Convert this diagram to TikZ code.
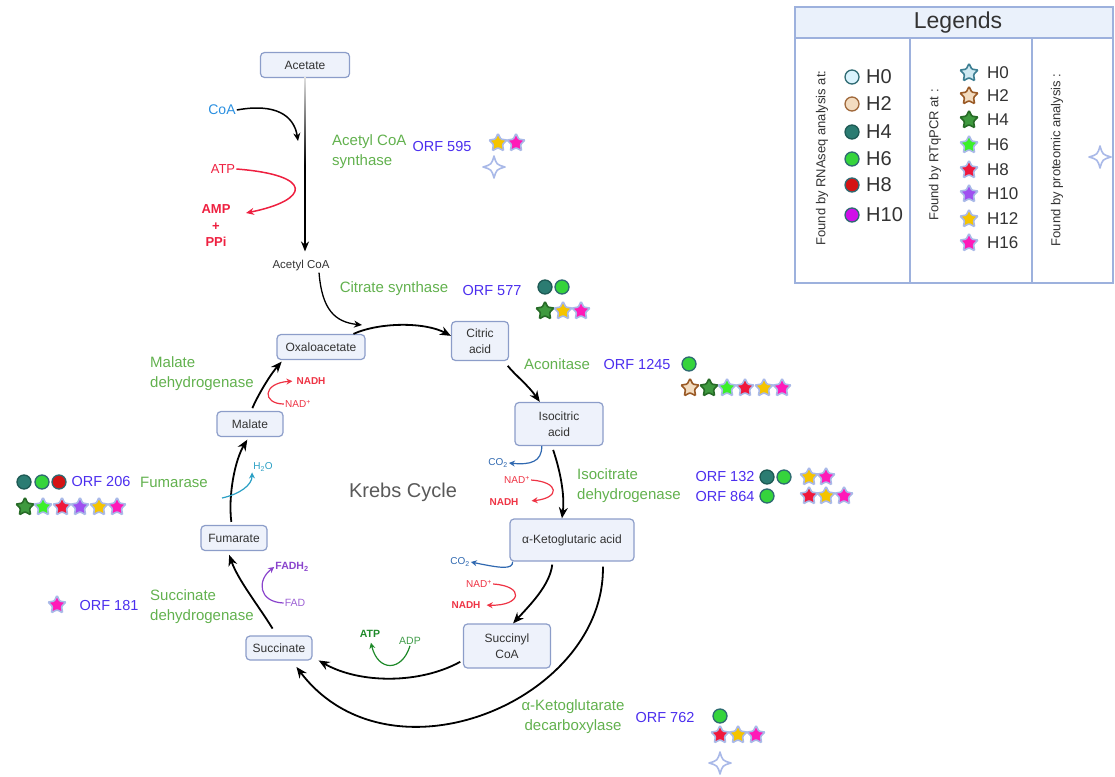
\documentclass[tikz,border=0pt]{standalone}
\usepackage{fontspec}
\setmainfont{Liberation Sans}
\usetikzlibrary{shapes.geometric,arrows.meta}

\definecolor{boxfill}{HTML}{EEF2FB}
\definecolor{boxline}{HTML}{8C9DC9}
\definecolor{boxtext}{HTML}{333333}
\definecolor{enzgreen}{HTML}{62B14E}
\definecolor{orfblue}{HTML}{4B2EEE}
\definecolor{coablue}{HTML}{2A8FE0}
\definecolor{atpred}{HTML}{EE2040}
\definecolor{nadred}{HTML}{EE3344}
\definecolor{fadpurple}{HTML}{8A44CC}
\definecolor{waterblue}{HTML}{2A9FC4}
\definecolor{co2blue}{HTML}{2F68B0}
\definecolor{atpgreen}{HTML}{1F8A2A}
\definecolor{legline}{HTML}{9DB1DD}
\definecolor{legfill}{HTML}{EAF1FB}
\definecolor{glow}{HTML}{A9B9E8}
\definecolor{dotline}{HTML}{2E6A72}

\tikzstyle{metab} = [
rectangle,
rounded corners=4pt,
draw=boxline,
fill=boxfill,
line width=1.2pt,
text=boxtext,
font=\fontsize{12}{16}\selectfont,
align=center,
inner sep=0pt
]
\tikzstyle{enzyme} = [font=\fontsize{15}{20}\selectfont, text=enzgreen, inner sep=1pt]
\tikzstyle{orf} = [font=\fontsize{14.5}{20}\selectfont, text=orfblue, inner sep=1pt]
\tikzstyle{cofactor} = [font=\fontsize{10}{12}\selectfont, inner sep=1pt]
\tikzstyle{arrow} = [
line width=1.8pt,
->,
>={Stealth[length=11pt,width=9pt]}
]
\tikzstyle{thinarrow} = [
line width=1.2pt,
->,
>={Stealth[length=6pt,width=6pt]}
]
\tikzstyle{legline} = [draw=legline, line width=1.5pt]
\tikzstyle{sparkline} = [draw=glow, fill=white, line width=1.6pt, line join=round]

% RNAseq dots
\tikzstyle{dot} = [circle, minimum size=14pt, inner sep=0pt, line width=1.3pt, draw=dotline]
\tikzstyle{dot0} = [dot, fill=white!85!cyan]
\tikzstyle{dot2} = [dot, fill={rgb,255:red,243;green,220;blue,192}, draw={rgb,255:red,160;green,104;blue,58}]
\tikzstyle{dot4} = [dot, fill={rgb,255:red,43;green,124;blue,114}, draw={rgb,255:red,30;green,90;blue,85}]
\tikzstyle{dot6} = [dot, fill={rgb,255:red,53;green,212;blue,60}]
\tikzstyle{dot8} = [dot, fill={rgb,255:red,212;green,20;blue,20}]
\tikzstyle{dot10} = [dot, fill={rgb,255:red,208;green,16;blue,232}]

% RTqPCR stars
\tikzstyle{hstar} = [star, star points=5, star point ratio=2.0, minimum size=19pt, inner sep=0pt, line width=1.6pt, rounded corners=1pt, draw=glow]
\tikzstyle{star0} = [hstar, fill={rgb,255:red,207;green,233;blue,242}, draw={rgb,255:red,61;green,127;blue,147}]
\tikzstyle{star2} = [hstar, fill={rgb,255:red,243;green,220;blue,192}, draw={rgb,255:red,154;green,90;blue,38}]
\tikzstyle{star4} = [hstar, fill={rgb,255:red,63;green,154;blue,63}, draw={rgb,255:red,39;green,107;blue,39}]
\tikzstyle{star6} = [hstar, fill={rgb,255:red,60;green,240;blue,42}]
\tikzstyle{star8} = [hstar, fill={rgb,255:red,240;green,24;blue,60}]
\tikzstyle{star10} = [hstar, fill={rgb,255:red,160;green,80;blue,240}]
\tikzstyle{star12} = [hstar, fill={rgb,255:red,245;green,196;blue,0}]
\tikzstyle{star16} = [hstar, fill={rgb,255:red,255;green,26;blue,184}]

% proteomic mark
\newcommand{\sparkle}[2]{%
\draw[sparkline] (#1,#2-11) .. controls (#1+2.5,#2-2.5) .. (#1+11,#2)
  .. controls (#1+2.5,#2+2.5) .. (#1,#2+11)
  .. controls (#1-2.5,#2+2.5) .. (#1-11,#2)
  .. controls (#1-2.5,#2-2.5) .. cycle;}

\begin{document}
\begin{tikzpicture}[x=1pt, y=-1pt]
\useasboundingbox (0,0) rectangle (1115,776);

% Legend
\draw[legline, fill=white] (795,7) rectangle (1113,283);
\draw[legline, fill=legfill] (795,7) rectangle (1113,38);
\draw[legline] (910,38) -- (910,283);
\draw[legline] (1032,38) -- (1032,283);
\node[font=\fontsize{23}{26}\selectfont, text=boxtext] (legtitle) at (958,23) {Legends};
\node[font=\fontsize{13}{15}\selectfont, text=boxtext, rotate=90] (rnacol) at (822,158) {Found by RNAseq analysis at:};
\node[font=\fontsize{13}{15}\selectfont, text=boxtext, rotate=90] (pcrcol) at (935,155) {Found by RTqPCR at :};
\node[font=\fontsize{13}{15}\selectfont, text=boxtext, rotate=90] (protcol) at (1057,160) {Found by proteomic analysis :};
\foreach \h/\y in {0/77, 2/104, 4/132, 6/159, 8/185, 10/215} {
  \node[dot\h] (ldot\h) at (852,\y) {};
  \node[font=\fontsize{20}{22}\selectfont, text=boxtext, anchor=west, inner sep=0pt] (ldtxt\h) at (866,\y) {H\h};
}
\foreach \h/\y in {0/73, 2/96, 4/120, 6/145, 8/170, 10/194, 12/219, 16/243} {
  \node[star\h] (lstar\h) at (969,\y) {};
  \node[font=\fontsize{17}{20}\selectfont, text=boxtext, anchor=west, inner sep=0pt] (lstxt\h) at (987,\y) {H\h};
}
\sparkle{1100}{157}

% Metabolites
\node (acetate) [metab, minimum width=89pt, minimum height=25pt] at (305,65) {Acetate};
\node (acetylcoa) [font=\fontsize{11.5}{14}\selectfont, text=boxtext, inner sep=1pt] at (301,266) {Acetyl CoA};
\node (oxal) [metab, minimum width=88pt, minimum height=25pt] at (321,347) {Oxaloacetate};
\node (citric) [metab, minimum width=57pt, minimum height=39pt] at (480,341) {Citric\\acid};
\node (isocit) [metab, minimum width=88pt, minimum height=43pt] at (559,424) {Isocitric\\acid};
\node (akg) [metab, minimum width=124pt, minimum height=42pt] at (572,540) {α-Ketoglutaric acid};
\node (succoa) [metab, minimum width=87pt, minimum height=44pt] at (507,646) {Succinyl\\CoA};
\node (succ) [metab, minimum width=66pt, minimum height=24pt] at (279,648) {Succinate};
\node (fum) [metab, minimum width=66pt, minimum height=25pt] at (234,538) {Fumarate};
\node (malate) [metab, minimum width=66pt, minimum height=25pt] at (250,424) {Malate};
\node (krebs) [font=\fontsize{20}{24}\selectfont, text=black!65] at (403,492) {Krebs Cycle};

% Cofactors
\node (coa) [font=\fontsize{14}{16}\selectfont, text=coablue, inner sep=1pt] at (222,110) {CoA};
\node (atp) [font=\fontsize{13}{16}\selectfont, text=atpred, inner sep=1pt] at (223,169) {ATP};
\node (amp) [font=\bfseries\fontsize{13}{16.5}\selectfont, text=atpred, align=center, inner sep=1pt] at (216,226) {AMP\\+\\PPi};
\coordinate (atpend) at (246,213);
\coordinate (coaend) at (298,141);
\coordinate (csend) at (362,325);
\node (co2a) [cofactor, text=co2blue] at (498,463) {CO\textsubscript{2}};
\node (nad1) [cofactor, text=nadred] at (517,480) {NAD\textsuperscript{+}};
\node (nadh1) [cofactor, text=nadred, font=\bfseries\fontsize{10}{12}\selectfont] at (504,502) {NADH};
\node (co2b) [cofactor, text=co2blue] at (460,562) {CO\textsubscript{2}};
\node (nad2) [cofactor, text=nadred] at (479,584) {NAD\textsuperscript{+}};
\node (nadh2) [cofactor, text=nadred, font=\bfseries\fontsize{10}{12}\selectfont] at (466,605) {NADH};
\node (atpg) [cofactor, text=atpgreen, font=\bfseries\fontsize{10.5}{12}\selectfont] at (370,634) {ATP};
\node (adp) [cofactor, text=atpgreen!85!white, font=\fontsize{10.5}{12}\selectfont] at (410,641) {ADP};
\node (fadh) [cofactor, text=fadpurple, font=\bfseries\fontsize{10.5}{12}\selectfont] at (292,567) {FADH\textsubscript{2}};
\node (fad) [cofactor, text=fadpurple!85!white, font=\fontsize{10.5}{12}\selectfont] at (295,603) {FAD};
\node (h2o) [cofactor, text=waterblue] at (263,467) {H\textsubscript{2}O};
\coordinate (h2ostart) at (222,498);
\node (nadh3) [cofactor, text=nadred, font=\bfseries\fontsize{10}{12}\selectfont] at (311,381) {NADH};
\node (nad3) [cofactor, text=nadred] at (298,404) {NAD\textsuperscript{+}};

% Enzymes and ORFs
\node (acsyn) [enzyme, align=left, anchor=west] at (331,152) {Acetyl CoA\\synthase};
\node (orf595) [orf] at (442,147) {ORF 595};
\node (csyn) [enzyme] at (394,289) {Citrate synthase};
\node (orf577) [orf] at (492,291) {ORF 577};
\node (acon) [enzyme] at (557,364) {Aconitase};
\node (orf1245) [orf] at (637,365) {ORF 1245};
\node (idh) [enzyme, align=left, anchor=west] at (576,486) {Isocitrate\\dehydrogenase};
\node (orf132) [orf] at (725,477) {ORF 132};
\node (orf864) [orf] at (725,497) {ORF 864};
\node (akgdc) [enzyme, align=center] at (573,717) {α-Ketoglutarate\\decarboxylase};
\node (orf762) [orf] at (665,717) {ORF 762};
\node (sdh) [enzyme, align=left, anchor=west] at (149,607) {Succinate\\dehydrogenase};
\node (orf181) [orf] at (109,605) {ORF 181};
\node (fumase) [enzyme] at (174,482) {Fumarase};
\node (orf206) [orf] at (101,482) {ORF 206};
\node (mdh) [enzyme, align=left, anchor=west] at (149,374) {Malate\\dehydrogenase};

% Marks
\node (s595a) [star12] at (498,143) {};
\node (s595b) [star16] at (516,143) {};
\sparkle{494}{167}
\node (d577a) [dot4] at (545,287) {};
\node (d577b) [dot6] at (562,287) {};
\node (s577a) [star4] at (545,311) {};
\node (s577b) [star12] at (563,311) {};
\node (s577c) [star16] at (581,311) {};
\node (d1245) [dot6] at (689,364) {};
\node (s1245a) [star2] at (690,388) {};
\node (s1245b) [star4] at (709,388) {};
\node (s1245c) [star6] at (727,388) {};
\node (s1245d) [star8] at (745,388) {};
\node (s1245e) [star12] at (764,388) {};
\node (s1245f) [star16] at (782,388) {};
\node (d132a) [dot4] at (767,477) {};
\node (d132b) [dot6] at (784,477) {};
\node (s132a) [star12] at (809,477) {};
\node (s132b) [star16] at (826,477) {};
\node (d864) [dot6] at (767,496) {};
\node (s864a) [star8] at (809,496) {};
\node (s864b) [star12] at (826,496) {};
\node (s864c) [star16] at (844,496) {};
\node (d762) [dot6] at (720,716) {};
\node (s762a) [star8] at (720,735) {};
\node (s762b) [star12] at (738,735) {};
\node (s762c) [star16] at (756,735) {};
\sparkle{720}{763}
\node (s181) [star16] at (57,605) {};
\node (d206a) [dot4] at (24,482) {};
\node (d206b) [dot6] at (42,482) {};
\node (d206c) [dot8] at (59,482) {};
\node (s206a) [star4] at (25,507) {};
\node (s206b) [star6] at (43,507) {};
\node (s206c) [star8] at (62,507) {};
\node (s206d) [star10] at (80,507) {};
\node (s206e) [star12] at (99,507) {};
\node (s206f) [star16] at (117,507) {};

% Arrows
\draw [line width=1.5pt, ->, >={Stealth[length=10pt,width=8pt]}, shorten >=8pt] (acetate.south) -- (acetate.south |- acetylcoa.north);
\shade [top color=black!12, bottom color=black] (304.2,77.5) rectangle (305.8,165);
\draw [line width=1.5pt, ->, >={Stealth[length=8pt,width=7pt]}] (coa.east) .. controls (275,103) and (294,115) .. (coaend);
\draw [line width=1.5pt, ->, >={Stealth[length=8pt,width=7pt]}, atpred] (atp.east) .. controls (315,175) and (310,200) .. (atpend);
\draw [line width=1.3pt, ->, >={Stealth[length=8pt,width=7pt]}] (acetylcoa.-20) .. controls (322,310) and (335,322) .. (csend);

\draw [arrow] (oxal.22) .. controls (380,322) and (425,322) .. (citric.170);
\draw [arrow, shorten <=6pt] (citric.-40) .. controls (515,375) and (528,385) .. (isocit.131);
\draw [arrow, shorten <=4pt] (isocit.-108) .. controls (560,470) and (565,495) .. (akg.115);
\draw [arrow, shorten <=3pt] (akg.-132) .. controls (550,585) and (530,605) .. (succoa.75);
\draw [arrow, shorten <=5pt, shorten >=8pt] (akg.-35) .. controls (605,700) and (390,790) .. (succ.-45);
\draw [arrow, shorten <=3pt, shorten >=7pt] (succoa.198) .. controls (420,684) and (360,684) .. (succ.-15);
\draw [arrow, shorten <=8pt, shorten >=4pt] (succ.100) .. controls (258,605) and (238,580) .. (fum.-115);
\draw [arrow, shorten <=3pt, shorten >=3pt] (fum.100) .. controls (228,495) and (235,460) .. (malate.-95);
\draw [arrow, shorten <=3pt, shorten >=2pt] (malate.85) .. controls (258,395) and (270,375) .. (oxal.-161);

\draw [thinarrow, co2blue] (isocit.-128) .. controls (542,462) and (530,465) .. (co2a.east);
\draw [thinarrow, nadred, shorten >=12pt] (nad1.east) .. controls (560,482) and (560,498) .. (nadh1.east);
\draw [thinarrow, co2blue] (akg.-160) .. controls (513,570) and (500,568) .. (co2b.east);
\draw [thinarrow, nadred, shorten >=5pt] (nad2.east) .. controls (525,586) and (522,606) .. (nadh2.east);
\draw [thinarrow, atpgreen, shorten >=4pt] (adp.south) .. controls (402,672) and (378,672) .. (atpg.south);
\draw [thinarrow, fadpurple] (fad.west) .. controls (258,602) and (257,580) .. (fadh.west);
\draw [thinarrow, waterblue] (h2ostart) .. controls (240,494) and (252,485) .. (h2o.south west);
\draw [thinarrow, nadred, shorten >=3pt] (nad3.west) .. controls (262,404) and (262,383) .. (nadh3.west);

\end{tikzpicture}
\end{document}
